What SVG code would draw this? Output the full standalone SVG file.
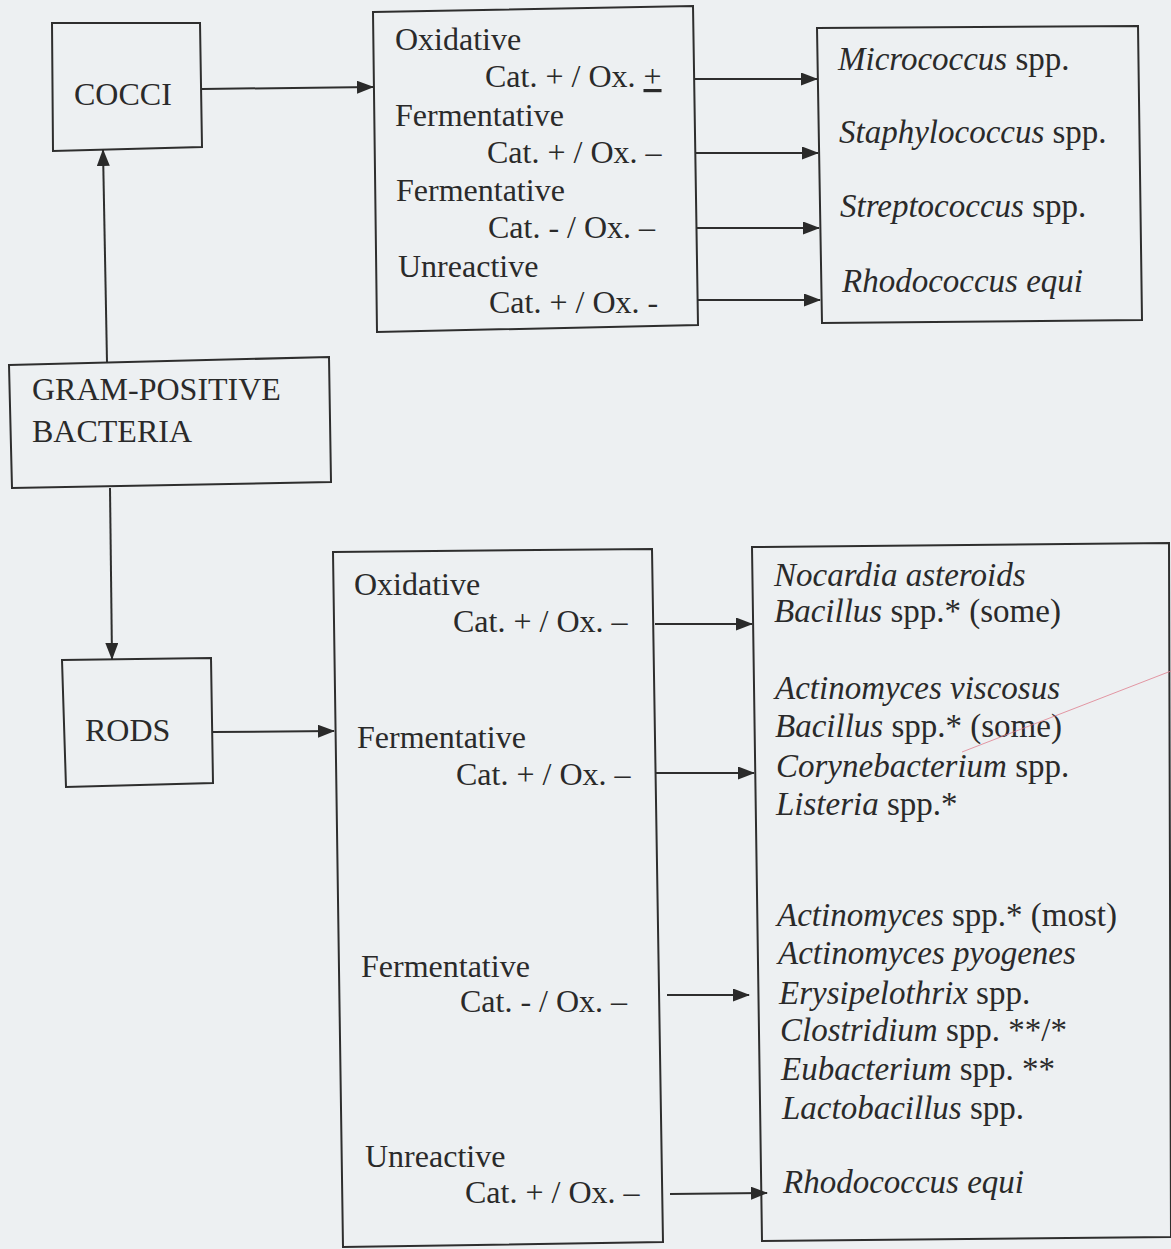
<svg xmlns="http://www.w3.org/2000/svg" width="1171" height="1249" viewBox="0 0 1171 1249">
<style>
.bg{fill:#edf0f2}
.box{fill:none;stroke:#2e2e2e;stroke-width:2}
.t{font-family:'Liberation Serif','DejaVu Serif',serif;font-size:32px;fill:#2a2a2a}
.s{font-size:33px}
.i{font-style:italic}
.c{stroke:#2e2e2e;stroke-width:2;fill:none}
</style>
<defs>
<marker id="ah" markerUnits="userSpaceOnUse" markerWidth="17" markerHeight="13" refX="16" refY="6.5" orient="auto">
<path d="M0,0 L17,6.5 L0,13 z" fill="#2a2a2a"/>
</marker>
</defs>
<rect class="bg" x="0" y="0" width="1171" height="1249"/>

<g id="cocci">
<path class="box" d="M52,23 L200,23 L202,147 L53,151 Z"/>
<text class="t" x="74" y="105">COCCI</text>
</g>

<g id="gram-positive">
<path class="box" d="M9,365 L329,357 L331,482 L12,488 Z"/>
<text class="t" x="32" y="400" font-size="29.6">GRAM-POSITIVE</text>
<text class="t" x="32" y="442" font-size="29.6">BACTERIA</text>
</g>

<g id="rods">
<path class="box" d="M62,660 L211,658 L213,783 L66,787 Z"/>
<text class="t" x="85" y="741">RODS</text>
</g>

<g id="cocci-tests">
<path class="box" d="M373,12 L693,6 L698,325 L377,332 Z"/>
<text class="t" x="395" y="50">Oxidative</text>
<text class="t" x="485" y="87">Cat. + / Ox. <tspan text-decoration="underline">+</tspan></text>
<text class="t" x="395" y="126">Fermentative</text>
<text class="t" x="487" y="163">Cat. + / Ox. –</text>
<text class="t" x="396" y="201">Fermentative</text>
<text class="t" x="488" y="238">Cat. - / Ox. –</text>
<text class="t" x="398" y="277">Unreactive</text>
<text class="t" x="489" y="313">Cat. + / Ox. -</text>
</g>

<g id="cocci-species">
<path class="box" d="M817,28 L1138,26 L1142,320 L822,323 Z"/>
<text class="t s" x="838" y="70"><tspan class="i">Micrococcus</tspan> spp.</text>
<text class="t s" x="839" y="143"><tspan class="i">Staphylococcus</tspan> spp.</text>
<text class="t s" x="840" y="217"><tspan class="i">Streptococcus</tspan> spp.</text>
<text class="t s i" x="842" y="292">Rhodococcus equi</text>
</g>

<g id="rods-tests">
<path class="box" d="M333,552 L652,549 L663,1242 L343,1247 Z"/>
<text class="t" x="354" y="595">Oxidative</text>
<text class="t" x="453" y="632">Cat. + / Ox. –</text>
<text class="t" x="357" y="748">Fermentative</text>
<text class="t" x="456" y="785">Cat. + / Ox. –</text>
<text class="t" x="361" y="977">Fermentative</text>
<text class="t" x="460" y="1012">Cat. - / Ox. –</text>
<text class="t" x="365" y="1167">Unreactive</text>
<text class="t" x="465" y="1203">Cat. + / Ox. –</text>
</g>

<g id="rods-species">
<path class="box" d="M752,547 L1169,543 L1171,1237 L762,1241 Z"/>
<text class="t s i" x="774" y="586">Nocardia asteroids</text>
<text class="t s" x="774" y="622"><tspan class="i">Bacillus</tspan> spp.* (some)</text>
<text class="t s i" x="775" y="699">Actinomyces viscosus</text>
<text class="t s" x="775" y="737"><tspan class="i">Bacillus</tspan> spp.* (some)</text>
<text class="t s" x="776" y="777"><tspan class="i">Corynebacterium</tspan> spp.</text>
<text class="t s" x="776" y="815"><tspan class="i">Listeria</tspan> spp.*</text>
<text class="t s" x="777" y="926"><tspan class="i">Actinomyces</tspan> spp.* (most)</text>
<text class="t s i" x="778" y="964">Actinomyces pyogenes</text>
<text class="t s" x="779" y="1004"><tspan class="i">Erysipelothrix</tspan> spp.</text>
<text class="t s" x="780" y="1041"><tspan class="i">Clostridium</tspan> spp. **/*</text>
<text class="t s" x="781" y="1080"><tspan class="i">Eubacterium</tspan> spp. **</text>
<text class="t s" x="782" y="1119"><tspan class="i">Lactobacillus</tspan> spp.</text>
<text class="t s i" x="783" y="1193">Rhodococcus equi</text>
</g>

<g id="connectors">
<line class="c" x1="107" y1="362" x2="103" y2="150" marker-end="url(#ah)"/>
<line class="c" x1="110" y1="488" x2="112" y2="659" marker-end="url(#ah)"/>
<line class="c" x1="202" y1="89" x2="373" y2="87" marker-end="url(#ah)"/>
<line class="c" x1="213" y1="732" x2="334" y2="731" marker-end="url(#ah)"/>
<line class="c" x1="695" y1="79" x2="817" y2="79" marker-end="url(#ah)"/>
<line class="c" x1="696" y1="153" x2="818" y2="153" marker-end="url(#ah)"/>
<line class="c" x1="697" y1="228" x2="819" y2="228" marker-end="url(#ah)"/>
<line class="c" x1="698" y1="300" x2="820" y2="300" marker-end="url(#ah)"/>
<line class="c" x1="655" y1="624" x2="752" y2="624" marker-end="url(#ah)"/>
<line class="c" x1="656" y1="773" x2="754" y2="773" marker-end="url(#ah)"/>
<line class="c" x1="667" y1="995" x2="749" y2="995" marker-end="url(#ah)"/>
<line class="c" x1="670" y1="1194" x2="767" y2="1193" marker-end="url(#ah)"/>
</g>

<line x1="962" y1="752" x2="1171" y2="671" stroke="#e08090" stroke-width="1" opacity="0.8"/>
</svg>
